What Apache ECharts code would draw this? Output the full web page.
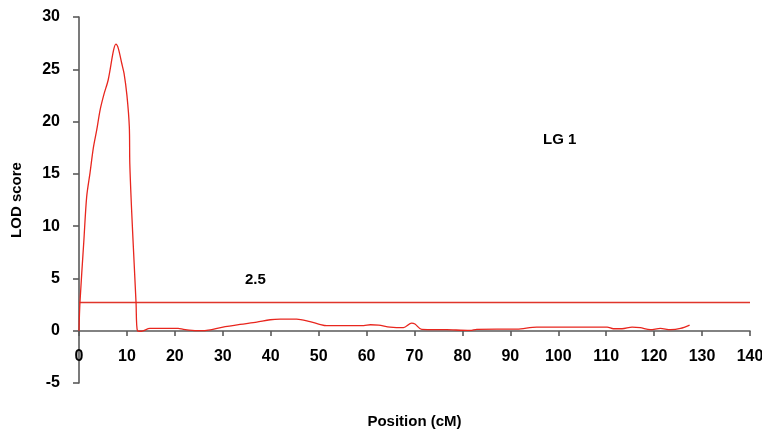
<!DOCTYPE html>
<html>
<head>
<meta charset="utf-8">
<script src="https://cdn.jsdelivr.net/npm/echarts@6/dist/echarts.min.js"></script>
<style>
  html, body { margin: 0; padding: 0; background: #fff; }
  #chart { width: 762px; height: 430px; }
</style>
</head>
<body>
<div id="chart"></div>
<script>
// position (cM) and LOD score
var positions = [0, 0.2, 1.0, 1.6, 2.3, 3.0, 3.7, 4.4, 5.2, 6.1, 7.2, 7.7, 8.2, 8.9, 9.4, 10.0, 10.5, 10.6, 11.0, 11.5, 11.9, 12.2,
  13.0, 14.8, 20.7, 21.8, 24.6, 26.6, 29.8, 33.6, 37.1, 39.9, 42.0, 45.4, 48.2, 50.0, 51.7, 59.4, 60.8, 62.5, 64.9, 67.7,
  69.4, 70.1, 71.5, 76.7, 81.6, 83.0, 91.4, 95.5, 110.2, 111.5, 113.3, 115.4, 117.1, 119.2, 121.3, 123.4, 125.5, 127.4]
var lodScores = [0, 2.7, 8.5, 12.8, 15.1, 17.5, 19.2, 21.1, 22.6, 24.0, 26.8, 27.4, 27.0, 25.6, 24.6, 22.5, 19.5, 16.0, 11.3, 6.5, 2.7, 0,
  -0.05, 0.22, 0.22, 0.12, 0, 0.03, 0.32, 0.6, 0.83, 1.05, 1.1, 1.1, 0.86, 0.64, 0.48, 0.48, 0.57, 0.54, 0.35, 0.29,
  0.73, 0.64, 0.13, 0.1, 0.03, 0.13, 0.16, 0.35, 0.35, 0.19, 0.19, 0.35, 0.29, 0.1, 0.22, 0.1, 0.22, 0.54]
var threshold = 2.7
var thresholdLabel = '2.5'
var groupLabel = 'LG 1'
var xTicks = { min: 0, max: 140, step: 10 }
var yTicks = { min: -5, max: 30, step: 5 }

var chart = echarts.init(document.getElementById('chart'))

var lodData = positions.map(function (p, i) { return [p, lodScores[i]] })

var axisStyle = { color: '#5a5a5a', width: 1.6 }
var labelFont = { fontFamily: 'Liberation Sans', fontWeight: 'bold', fontSize: 15, color: '#000' }

// the x axis sits on LOD = 0, labels just under it
var plotTop = 17, plotBottom = 383
var zeroY = plotTop + (plotBottom - plotTop) * yTicks.max / (yTicks.max - yTicks.min)
var xOffset = Math.round(zeroY - plotBottom)

var option = {
  animation: false,
  grid: { left: 79, right: 12, top: plotTop, bottom: 430 - plotBottom, outerBoundsMode: 'none', containLabel: false },
  xAxis: {
    type: 'value',
    min: xTicks.min,
    max: xTicks.max,
    interval: xTicks.step,
    offset: xOffset,
    name: 'Position (cM)',
    nameLocation: 'middle',
    nameGap: 31 - xOffset,
    nameTextStyle: labelFont,
    axisLine: { onZero: false, lineStyle: axisStyle },
    axisTick: { length: 5, lineStyle: axisStyle },
    axisLabel: Object.assign({ margin: 18 }, labelFont, { fontSize: 16 }),
    splitLine: { show: false }
  },
  yAxis: {
    type: 'value',
    min: yTicks.min,
    max: yTicks.max,
    interval: yTicks.step,
    name: 'LOD score',
    nameLocation: 'middle',
    nameGap: 55,
    nameTextStyle: labelFont,
    axisLine: { show: true, lineStyle: axisStyle },
    axisTick: { show: true, length: 6, lineStyle: axisStyle },
    axisLabel: Object.assign({ margin: 19 }, labelFont, { fontSize: 16 }),
    splitLine: { show: false }
  },
  series: [
    {
      name: 'threshold',
      type: 'line',
      data: [[xTicks.min, threshold], [xTicks.max, threshold]],
      symbol: 'none',
      color: '#e0352b',
      lineStyle: { color: '#e0352b', width: 1.3 },
      z: 2
    },
    {
      name: 'LOD',
      type: 'line',
      data: lodData,
      smooth: 0.3,
      symbol: 'none',
      color: '#e8261e',
      lineStyle: { color: '#e8261e', width: 1.3 },
      z: 3
    }
  ],
  graphic: [
    { type: 'text', left: 245, top: 272, style: Object.assign({ text: thresholdLabel }, labelFont, { fill: '#000' }) },
    { type: 'text', left: 543, top: 132, style: Object.assign({ text: groupLabel }, labelFont, { fill: '#000' }) }
  ]
}

chart.setOption(option)
</script>
</body>
</html>
